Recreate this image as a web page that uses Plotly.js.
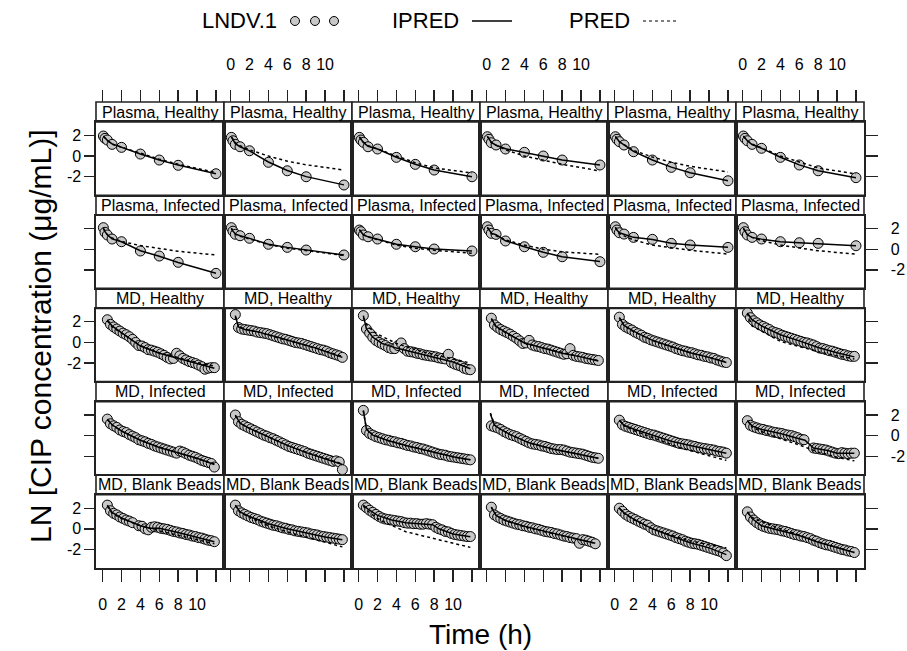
<!DOCTYPE html>
<html><head><meta charset="utf-8">
<script src="https://cdn.plot.ly/plotly-3.0.1.min.js"></script>
<style>html,body{margin:0;padding:0;background:#fff}#chart{width:907px;height:651px}</style>
</head><body><div id="chart"></div>
<script>
// ---------------- DATA ----------------
const STRIP_LABELS = ['Plasma, Healthy', 'Plasma, Infected', 'MD, Healthy', 'MD, Infected', 'MD, Blank Beads'];
const X_TICKS = [0, 2, 4, 6, 8, 10, 12];
const X_TICKTEXT = ['0', '2', '4', '6', '8', '10', ''];
const Y_TICKS = [-2, 0, 2];
const Y_TICKTEXT = ['-2', '0', '2'];

const PL_T = [0.08, 0.25, 0.5, 1, 2, 4, 6, 8, 12];
const MD_T = [0.5,0.83,1.17,1.5,1.83,2.17,2.5,2.83,3.17,3.5,3.83,4.17,4.5,4.83,5.17,5.5,5.83,6.17,6.5,6.83,7.17,7.5,7.83,8.17,8.5,8.83,9.17,9.5,9.83,10.17,10.5,10.83,11.17,11.5,11.83];

// Plasma, Healthy
const PH_OBS = [
  [1.94,1.71,1.55,1.13,0.84,0.19,-0.39,-0.9,-1.72],
  [1.81,1.48,1.13,0.9,0.51,-0.61,-1.43,-2.01,-2.81],
  [1.81,1.55,1.33,0.9,0.68,-0.13,-0.81,-1.36,-2.01],
  [1.87,1.62,1.29,1.07,0.68,0.36,0,-0.39,-0.87],
  [1.87,1.62,1.39,1.07,0.42,-0.39,-1.1,-1.62,-2.4],
  [1.94,1.71,1.48,1.13,0.75,-0.13,-0.87,-1.43,-2.1]
];
const PH_IPRED = [
  [1.95,1.75,1.52,1.18,0.83,0.2,-0.38,-0.88,-1.72],
  [1.85,1.55,1.2,0.9,0.5,-0.58,-1.4,-2.0,-2.8],
  [1.85,1.6,1.32,0.95,0.68,-0.12,-0.8,-1.35,-2.0],
  [1.9,1.65,1.32,1.05,0.7,0.35,0.0,-0.38,-0.88],
  [1.9,1.65,1.38,1.08,0.45,-0.38,-1.08,-1.62,-2.4],
  [1.95,1.72,1.48,1.12,0.75,-0.12,-0.86,-1.42,-2.1]
];
const PH_PRED = [
  [1.9,1.7,1.5,1.15,0.85,0.25,-0.3,-0.8,-1.6],
  [1.85,1.6,1.3,1.0,0.6,0.0,-0.5,-0.85,-1.36],
  [1.85,1.6,1.35,1.0,0.7,0.0,-0.65,-1.15,-1.65],
  [1.9,1.65,1.3,1.05,0.6,0.0,-0.4,-0.8,-1.45],
  [1.9,1.65,1.4,1.1,0.55,-0.1,-0.6,-1.0,-1.55],
  [1.9,1.7,1.5,1.15,0.8,0.0,-0.6,-1.15,-1.75]
];

// Plasma, Infected
const PI_OBS = [
  [2.09,1.64,1.38,0.99,0.73,-0.17,-0.66,-1.27,-2.34],
  [2.09,1.75,1.45,1.31,1.06,0.48,0.18,-0.08,-0.56],
  [1.86,1.7,1.38,1.21,0.99,0.48,0.24,0.02,-0.17],
  [2.18,1.86,1.54,1.44,0.8,0.24,-0.3,-0.73,-1.21],
  [2.18,1.86,1.6,1.47,1.15,0.96,0.57,0.41,0.18],
  [2.09,1.7,1.38,1.15,0.99,0.73,0.63,0.57,0.34]
];
const PI_IPRED = [
  [2.05,1.7,1.4,1.0,0.72,-0.15,-0.68,-1.28,-2.33],
  [2.05,1.75,1.48,1.3,1.05,0.48,0.18,-0.08,-0.55],
  [1.9,1.68,1.4,1.2,0.98,0.48,0.24,0.02,-0.17],
  [2.15,1.85,1.55,1.4,0.82,0.24,-0.3,-0.72,-1.2],
  [2.15,1.85,1.6,1.45,1.15,0.95,0.58,0.4,0.18],
  [2.05,1.72,1.4,1.15,0.98,0.73,0.62,0.56,0.34]
];
const PI_PRED = [
  [2.0,1.7,1.4,1.1,0.75,0.35,0.05,-0.2,-0.56],
  [2.0,1.7,1.45,1.25,1.0,0.45,0.1,-0.15,-0.6],
  [1.9,1.65,1.4,1.2,0.95,0.4,0.1,-0.1,-0.4],
  [2.1,1.8,1.5,1.3,0.9,0.4,0.0,-0.25,-0.5],
  [2.1,1.8,1.5,1.3,0.9,0.4,0.15,-0.1,-0.47],
  [2.0,1.7,1.4,1.15,0.85,0.4,0.1,-0.15,-0.47]
];

// MD, Healthy
const MDH_OBS = [
  [2.2,1.75,1.5,1.3,1.1,0.9,0.75,0.55,0.3,0.0,-0.3,-0.35,-0.5,-0.7,-0.75,-0.85,-0.95,-1.1,-1.25,-1.45,-1.6,-1.55,-1.05,-1.3,-1.55,-1.7,-1.85,-1.95,-2.05,-2.2,-2.35,-2.6,-2.5,-2.45,-2.45],
  [2.7,1.45,1.3,1.25,1.2,1.15,1.1,1.0,0.95,0.9,0.85,0.75,0.65,0.55,0.45,0.35,0.3,0.2,0.1,0.0,-0.05,-0.1,-0.2,-0.3,-0.4,-0.5,-0.6,-0.7,-0.75,-0.85,-1.0,-1.1,-1.2,-1.3,-1.45],
  [2.6,1.3,0.9,0.5,0.2,0.0,-0.15,-0.3,-0.5,-0.6,-0.6,-0.3,-0.05,-0.6,-0.85,-0.9,-0.95,-1.05,-1.1,-1.2,-1.25,-1.3,-1.35,-1.4,-1.5,-1.55,-1.6,-1.15,-1.95,-2.1,-2.2,-2.3,-2.5,-2.6,-2.65],
  [2.35,1.7,1.45,1.25,1.1,0.95,0.8,0.6,0.4,0.15,-0.1,-0.05,0.2,-0.25,-0.35,-0.4,-0.5,-0.6,-0.65,-0.75,-0.85,-0.95,-1.05,-1.15,-1.1,-0.6,-1.25,-1.35,-1.4,-1.45,-1.55,-1.6,-1.65,-1.7,-1.75],
  [2.45,1.75,1.5,1.35,1.2,1.0,0.85,0.7,0.5,0.4,0.25,0.15,0.05,-0.05,-0.15,-0.25,-0.35,-0.45,-0.6,-0.7,-0.8,-0.85,-0.95,-1.0,-1.1,-1.2,-1.25,-1.35,-1.4,-1.5,-1.55,-1.7,-1.8,-1.9,-1.95],
  [2.85,2.4,2.1,1.9,1.7,1.55,1.4,1.25,1.05,0.95,0.85,0.7,0.6,0.5,0.4,0.3,0.2,0.1,0.0,-0.05,-0.15,-0.25,-0.4,-0.55,-0.6,-0.7,-0.8,-0.85,-0.95,-1.05,-1.15,-1.2,-1.3,-1.35,-1.35]
];
const MDH_IPRED = [
  [[0.5,2.2],[1,1.6],[2,0.95],[4,-0.35],[6,-1.05],[8,-1.55],[10,-2.05],[11.83,-2.5]],
  [[0.5,2.6],[0.83,1.5],[1.5,1.25],[3,1.0],[5,0.5],[7,0.0],[9,-0.55],[11.83,-1.45]],
  [[0.5,2.6],[0.83,1.3],[1.5,0.5],[2.5,-0.1],[4,-0.55],[6,-1.0],[8,-1.4],[10,-1.9],[11.83,-2.55]],
  [[0.5,2.3],[1,1.55],[2,1.0],[4,-0.05],[6,-0.55],[8,-1.05],[10,-1.4],[11.83,-1.8]],
  [[0.5,2.4],[1,1.65],[2,1.1],[4,0.2],[6,-0.4],[8,-1.0],[10,-1.45],[11.83,-1.95]],
  [[0.5,2.85],[1,2.2],[2,1.6],[4,0.75],[6,0.15],[8,-0.5],[10,-1.0],[11.83,-1.4]]
];
const MDH_PRED = [
  [[0.5,2.1],[1,1.5],[2,0.9],[4,-0.3],[6,-1.0],[8,-1.5],[10,-1.95],[11.83,-2.3]],
  [[0.5,2.5],[0.83,1.55],[1.5,1.3],[3,1.0],[5,0.45],[7,-0.05],[9,-0.55],[11.83,-1.35]],
  [[0.5,2.4],[1,1.5],[2,0.8],[4,-0.1],[6,-0.7],[8,-1.2],[10,-1.6],[11.83,-2.0]],
  [[0.5,2.3],[1,1.5],[2,0.95],[4,-0.05],[6,-0.55],[8,-1.0],[10,-1.4],[11.83,-1.75]],
  [[0.5,2.4],[1,1.6],[2,1.05],[4,0.2],[6,-0.45],[8,-1.0],[10,-1.45],[11.83,-1.9]],
  [[0.5,2.8],[1,1.6],[2,1.1],[4,0.1],[6,-0.4],[8,-0.9],[10,-1.3],[11.83,-1.6]]
];

// MD, Infected
const MDI_OBS = [
  [1.6,1.15,0.95,0.8,0.55,0.4,0.3,0.1,-0.05,-0.2,-0.4,-0.5,-0.6,-0.75,-0.85,-1.0,-1.1,-1.2,-1.3,-1.4,-1.5,-1.6,-1.7,-1.5,-1.6,-1.75,-1.9,-2.0,-2.1,-2.25,-2.4,-2.5,-2.6,-2.7,-3.05],
  [2.0,1.35,1.1,0.95,0.8,0.65,0.5,0.35,0.2,0.05,-0.05,-0.2,-0.3,-0.45,-0.6,-0.75,-0.9,-1.05,-1.15,-1.25,-1.35,-1.45,-1.55,-1.7,-1.8,-1.9,-2.0,-2.1,-2.2,-2.3,-2.4,-2.5,-2.45,-2.55,-3.3],
  [2.45,0.5,0.2,0.05,-0.1,-0.2,-0.3,-0.4,-0.45,-0.55,-0.6,-0.7,-0.75,-0.85,-0.95,-1.0,-1.1,-1.15,-1.25,-1.3,-1.4,-1.5,-1.6,-1.7,-1.8,-1.85,-1.9,-2.0,-2.05,-2.1,-2.15,-2.2,-2.25,-2.3,-2.35],
  [0.95,0.85,0.75,0.6,0.4,0.25,0.1,0.0,-0.1,-0.25,-0.4,-0.55,-0.7,-0.8,-0.85,-0.9,-1.0,-1.05,-1.15,-1.25,-1.3,-1.35,-1.35,-1.4,-1.5,-1.6,-1.65,-1.7,-1.75,-1.8,-1.9,-2.0,-2.1,-2.15,-2.2],
  [1.5,1.05,0.9,0.8,0.7,0.6,0.5,0.4,0.3,0.2,0.1,0.05,-0.05,-0.15,-0.25,-0.35,-0.45,-0.55,-0.65,-0.75,-0.8,-0.85,-0.9,-1.0,-1.05,-1.15,-1.2,-1.25,-1.3,-1.35,-1.4,-1.5,-1.55,-1.6,-1.7],
  [1.45,1.0,0.85,0.75,0.65,0.6,0.5,0.45,0.35,0.3,0.25,0.2,0.1,0.05,0.0,-0.1,-0.2,-0.35,-0.4,null,null,-1.2,-1.25,-1.3,-1.35,-1.4,-1.5,-1.6,-1.7,-1.75,-1.65,-1.7,-1.75,-1.7,-1.7]
];
const MDI_IPRED = [
  [[0.5,1.6],[1,1.05],[2,0.45],[4,-0.45],[6,-1.15],[8,-1.7],[10,-2.2],[11.83,-2.8]],
  [[0.5,2.0],[1,1.2],[2,0.7],[4,-0.15],[6,-0.95],[8,-1.65],[10,-2.25],[11.83,-2.8]],
  [[0.5,2.45],[0.83,0.6],[1.5,0.05],[3,-0.45],[5,-0.95],[8,-1.65],[10,-2.05],[11.83,-2.35]],
  [[0.4,2.1],[0.83,1.0],[1.5,0.6],[2.5,0.1],[4.5,-0.7],[7,-1.3],[9.5,-1.75],[11.83,-2.2]],
  [[0.5,1.5],[1,1.0],[2,0.65],[4,0.05],[6,-0.55],[8,-0.95],[10,-1.35],[11.83,-1.7]],
  [[0.5,1.45],[1,0.95],[2,0.6],[4,0.2],[6,-0.3],[6.6,-0.45],[7.5,-1.2],[9,-1.45],[10,-1.7],[11.83,-1.72]]
];
const MDI_PRED = [
  [[0.5,1.55],[1,1.05],[2,0.45],[4,-0.45],[6,-1.1],[8,-1.65],[10,-2.2],[11.83,-2.75]],
  [[0.5,1.95],[1,1.2],[2,0.7],[4,-0.15],[6,-0.95],[8,-1.6],[10,-2.2],[11.83,-2.75]],
  [[0.5,2.4],[0.83,0.65],[1.5,0.1],[3,-0.45],[5,-0.95],[8,-1.65],[10,-2.05],[11.83,-2.35]],
  [[0.4,2.2],[0.83,1.05],[1.5,0.6],[2.5,0.1],[4.5,-0.7],[7,-1.3],[9.5,-1.75],[11.83,-2.2]],
  [[0.5,1.5],[1,0.95],[2,0.5],[4,-0.2],[7,-1.2],[10,-1.95],[11.83,-2.4]],
  [[0.5,1.45],[1,0.85],[2,0.4],[4,-0.3],[6,-0.9],[8,-1.6],[10,-2.1],[11.83,-2.45]]
];

// MD, Blank Beads
const MDB_OBS = [
  [2.3,1.75,1.5,1.35,1.15,1.0,0.85,0.75,0.6,null,0.3,0.25,0.0,-0.1,0.15,0.2,0.15,0.05,0.0,-0.05,-0.15,-0.25,-0.3,-0.4,-0.45,-0.55,-0.6,-0.7,-0.75,-0.85,-0.9,-1.0,-1.1,-1.15,-1.25],
  [2.3,1.75,1.55,1.4,1.25,1.1,1.0,0.9,0.75,0.65,0.55,0.45,0.35,0.3,0.2,0.1,0.05,-0.05,-0.1,-0.2,-0.25,-0.3,-0.35,-0.4,-0.5,-0.55,-0.6,-0.7,-0.75,-0.8,-0.85,-0.9,-0.95,-1.0,-1.05],
  [2.3,2.05,1.8,1.6,1.4,1.2,1.05,0.95,0.9,0.85,0.8,0.75,0.7,0.6,0.55,0.55,0.5,0.5,0.45,0.45,0.5,0.45,0.4,0.15,0.0,-0.1,-0.25,-0.3,-0.45,-0.55,-0.6,-0.65,-0.7,-0.75,-0.75],
  [2.1,1.35,1.15,1.0,0.85,0.75,0.65,0.55,0.45,0.4,0.3,0.25,0.15,0.1,0.0,-0.05,-0.15,-0.25,-0.3,-0.35,-0.45,-0.5,-0.6,-0.7,-0.75,-0.85,-0.9,-0.95,-1.4,-1.05,-1.1,-1.2,-1.3,-1.45,null],
  [2.0,1.7,1.4,1.2,1.05,0.9,0.75,0.6,0.45,0.35,0.1,-0.1,-0.2,-0.3,-0.4,-0.5,-0.6,-0.7,-0.85,-0.95,-1.05,-1.2,-1.3,-1.4,-1.45,-1.5,-1.6,-1.7,-1.8,-1.9,-2.0,-2.1,-2.2,-2.35,-2.6],
  [1.65,1.15,0.85,0.6,0.4,0.25,0.15,0.05,0.0,-0.05,-0.1,-0.2,-0.25,-0.35,-0.45,-0.55,-0.6,-0.7,-0.75,-0.85,-0.95,-1.1,-1.2,-1.35,-1.45,-1.55,-1.6,-1.7,-1.8,-1.9,-2.0,-2.05,-2.15,-2.2,-2.3]
];
const MDB_IPRED = [
  [[0.5,2.3],[1,1.6],[2,1.05],[3.2,0.6],[4,0.3],[5,0.05],[6,0.05],[8,-0.35],[10,-0.8],[11.83,-1.25]],
  [[0.5,2.3],[1,1.65],[2,1.2],[4,0.5],[6,0.0],[8,-0.4],[10,-0.8],[11.83,-1.05]],
  [[0.5,2.3],[1,1.9],[2,1.3],[3.5,0.85],[5,0.6],[7,0.45],[7.83,0.4],[8.5,0.0],[10,-0.5],[11.83,-0.78]],
  [[0.5,2.1],[1,1.3],[2,0.8],[4,0.25],[6,-0.2],[8,-0.65],[10,-1.05],[11.5,-1.4]],
  [[0.5,2.0],[1,1.55],[2,0.95],[4,0.0],[6,-0.7],[8,-1.35],[10,-1.85],[11.83,-2.5]],
  [[0.5,1.65],[1,1.0],[2,0.3],[4,-0.15],[6,-0.65],[8,-1.3],[10,-1.85],[11.83,-2.3]]
];
const MDB_PRED = [
  [[0.5,2.2],[1,1.5],[2,1.0],[4,0.3],[6,-0.2],[8,-0.65],[10,-1.05],[11.83,-1.45]],
  [[0.5,2.25],[1,1.6],[2,1.1],[4,0.3],[6,-0.3],[8,-0.8],[10,-1.3],[11.83,-1.75]],
  [[0.5,2.2],[1,1.7],[2,1.0],[2.6,0.7],[5,-0.28],[8.6,-1.1],[11.83,-1.8]],
  [[0.5,2.1],[1,1.3],[2,0.8],[4,0.2],[6,-0.25],[8,-0.7],[10,-1.1],[11.5,-1.4]],
  [[0.5,2.0],[1,1.5],[2,0.9],[4,0.0],[6,-0.6],[8,-1.15],[10,-1.55],[11.83,-1.85]],
  [[0.5,1.6],[1,1.1],[2,0.7],[3,0.35],[4,0.0],[6,-0.6],[8,-1.25],[10,-1.8],[11.83,-2.3]]
];

// ---------------- BUILD ----------------
const FONT = 'Liberation Sans, Arial, Helvetica, sans-serif';
const W = 907, H = 651;
const COL_X0 = 96, COL_W = 128, ROW_Y0 = 102, ROW_H = 93.2, STRIP_H = 20;
const XR = [-0.7, 12.85], YR = [-3.8, 3.3];
const PT_FILL = '#c8c8c8';

const atT = (tarr, vals) => vals.map(v => v.map((y, i) => [tarr[i], y]));
const ROWS = [
  {obsT: PL_T, obs: PH_OBS, ipred: atT(PL_T, PH_IPRED), pred: atT(PL_T, PH_PRED)},
  {obsT: PL_T, obs: PI_OBS, ipred: atT(PL_T, PI_IPRED), pred: atT(PL_T, PI_PRED)},
  {obsT: MD_T, obs: MDH_OBS, ipred: MDH_IPRED, pred: MDH_PRED},
  {obsT: MD_T, obs: MDI_OBS, ipred: MDI_IPRED, pred: MDI_PRED},
  {obsT: MD_T, obs: MDB_OBS, ipred: MDB_IPRED, pred: MDB_PRED}
];

const px = x => x / W;
const py = y => 1 - y / H;

const traces = [];
const layout = {
  width: W, height: H,
  margin: {l: 0, r: 0, t: 0, b: 0},
  paper_bgcolor: '#fff', plot_bgcolor: '#fff',
  showlegend: false,
  font: {family: FONT, size: 16, color: '#000'},
  annotations: [], shapes: []
};

for (let r = 0; r < 5; r++) {
  for (let c = 0; c < 6; c++) {
    const idx = r * 6 + c + 1;
    const xa = idx === 1 ? 'x' : 'x' + idx;
    const ya = idx === 1 ? 'y' : 'y' + idx;
    const R = ROWS[r];
    const stripTop = ROW_Y0 + r * ROW_H;
    const plotTop = stripTop + STRIP_H;
    const plotBot = ROW_Y0 + (r + 1) * ROW_H;
    const plotH = plotBot - plotTop;

    traces.push({type: 'scatter', mode: 'markers', x: R.obsT, y: R.obs[c], xaxis: xa, yaxis: ya,
      marker: {symbol: 'circle', size: 10, color: PT_FILL, line: {color: '#000', width: 1}}, hoverinfo: 'skip'});
    traces.push({type: 'scatter', mode: 'lines', x: R.ipred[c].map(p => p[0]), y: R.ipred[c].map(p => p[1]),
      xaxis: xa, yaxis: ya, line: {color: '#000', width: 1.5}, hoverinfo: 'skip'});
    traces.push({type: 'scatter', mode: 'lines', x: R.pred[c].map(p => p[0]), y: R.pred[c].map(p => p[1]),
      xaxis: xa, yaxis: ya, line: {color: '#000', width: 1.5, dash: 'dot'}, hoverinfo: 'skip'});

    const xKey = idx === 1 ? 'xaxis' : 'xaxis' + idx;
    const yKey = idx === 1 ? 'yaxis' : 'yaxis' + idx;
    layout[xKey] = {
      domain: [px(COL_X0 + c * COL_W), px(COL_X0 + (c + 1) * COL_W)],
      anchor: ya, range: XR, showgrid: false, zeroline: false,
      showline: true, mirror: true, linecolor: '#222', linewidth: 1.6,
      ticks: r === 4 ? 'outside' : '', ticklen: 12, tickwidth: 1.4, tickcolor: '#222',
      tickvals: X_TICKS, ticktext: X_TICKTEXT,
      showticklabels: r === 4 && c % 2 === 0, ticklabelstandoff: 9,
      tickfont: {family: FONT, size: 16, color: '#000'}, fixedrange: true
    };
    const right = c === 5;
    layout[yKey] = {
      domain: [py(plotBot), py(plotTop)],
      anchor: xa, range: YR, showgrid: false, zeroline: false,
      showline: true, mirror: true, linecolor: '#222', linewidth: 1.6,
      side: right ? 'right' : 'left',
      ticks: (c === 0 || right) ? 'outside' : '', ticklen: right ? 12 : 10, tickwidth: 1.4, tickcolor: '#222',
      tickvals: Y_TICKS, ticktext: Y_TICKTEXT,
      showticklabels: (c === 0 && r % 2 === 0) || (right && r % 2 === 1),
      ticklabelstandoff: right ? 10 : 0,
      tickfont: {family: FONT, size: 16, color: '#000'}, fixedrange: true
    };

    // strip
    layout.shapes.push({type: 'rect', xref: xa + ' domain', yref: ya + ' domain',
      x0: 0, x1: 1, y0: 1, y1: 1 + STRIP_H / plotH,
      line: {color: '#222', width: 1.6}, fillcolor: '#fff', layer: 'below'});
    layout.annotations.push({xref: xa + ' domain', yref: ya + ' domain', x: 0.5, y: 1 + (STRIP_H / 2) / plotH,
      xanchor: 'center', yanchor: 'middle', text: STRIP_LABELS[r], showarrow: false,
      font: {family: FONT, size: 16, color: '#000'}});
  }
}

// top tick axes (above the top strips)
for (let c = 0; c < 6; c++) {
  const id = 31 + c;
  layout['xaxis' + id] = {
    domain: [px(COL_X0 + c * COL_W), px(COL_X0 + (c + 1) * COL_W)],
    anchor: 'free', position: py(ROW_Y0), side: 'top',
    overlaying: c === 0 ? 'x' : 'x' + (c + 1),
    range: XR, showgrid: false, zeroline: false, showline: false,
    ticks: 'outside', ticklen: 12, tickwidth: 1.4, tickcolor: '#222',
    tickvals: X_TICKS, ticktext: X_TICKTEXT,
    showticklabels: c % 2 === 1, ticklabelstandoff: 14,
    tickfont: {family: FONT, size: 16, color: '#000'}, fixedrange: true
  };
  traces.push({type: 'scatter', mode: 'markers', x: [null], y: [null],
    xaxis: 'x' + id, yaxis: c === 0 ? 'y' : 'y' + (c + 1), hoverinfo: 'skip'});
}

// axis titles
layout.annotations.push({xref: 'paper', yref: 'paper', x: px(480), y: py(634), xanchor: 'center', yanchor: 'middle',
  text: 'Time (h)', showarrow: false, font: {family: FONT, size: 28, color: '#000'}});
layout.annotations.push({xref: 'paper', yref: 'paper', x: px(40), y: py(336), xanchor: 'center', yanchor: 'middle',
  text: 'LN [CIP concentration (μg/mL)]', textangle: -90, showarrow: false, font: {family: FONT, size: 30, color: '#000'}});

// legend (key at top)
const LEG_Y = 20;
const legText = [['LNDV.1', 200], ['IPRED', 390], ['PRED', 567]];
legText.forEach(([t, x]) => layout.annotations.push({xref: 'paper', yref: 'paper', x: px(x), y: py(LEG_Y),
  xanchor: 'left', yanchor: 'middle', text: t, showarrow: false, font: {family: FONT, size: 22, color: '#000'}}));
[295, 315, 334].forEach(cx => layout.shapes.push({type: 'circle', xref: 'paper', yref: 'paper',
  x0: px(cx - 4.5), x1: px(cx + 4.5), y0: py(LEG_Y + 1 + 4.5), y1: py(LEG_Y + 1 - 4.5),
  line: {color: '#000', width: 1}, fillcolor: PT_FILL}));
layout.shapes.push({type: 'line', xref: 'paper', yref: 'paper', x0: px(472), x1: px(512), y0: py(LEG_Y + 1), y1: py(LEG_Y + 1),
  line: {color: '#000', width: 1.4}});
layout.shapes.push({type: 'line', xref: 'paper', yref: 'paper', x0: px(643), x1: px(678), y0: py(LEG_Y + 1), y1: py(LEG_Y + 1),
  line: {color: '#000', width: 1.2, dash: 'dot'}});

Plotly.newPlot('chart', traces, layout, {staticPlot: true, displayModeBar: false});
</script>
</body></html>
